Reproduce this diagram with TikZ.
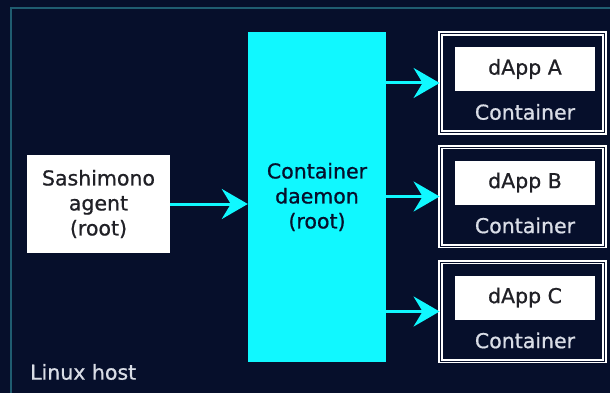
\documentclass[tikz,border=0pt]{standalone}
\usepackage{fontspec}
\setmainfont{DejaVu Sans}
\newfontfamily\labelfont{DejaVu Sans}[FakeBold=0.8]
\usetikzlibrary{arrows.meta}
\definecolor{hostbg}{HTML}{060F2B}
\definecolor{hostline}{HTML}{1F5C70}
\definecolor{daemoncyan}{HTML}{10F8FF}
\definecolor{labelgray}{HTML}{D9DDE6}
\definecolor{textdark}{HTML}{202026}

\begin{document}
\begin{tikzpicture}[x=1pt,y=-1pt]
    \tikzstyle{plainbox}=[rectangle,fill=white,text=textdark,inner sep=0pt,align=center,font=\labelfont\fontsize{20.5}{25}\selectfont]
    \tikzstyle{containerbox}=[rectangle,draw=white,double=hostbg,line width=1.8pt,double distance=1pt,minimum width=164pt,minimum height=99pt,inner sep=0pt]
    \tikzstyle{caption}=[text=labelgray,inner sep=0pt,font=\labelfont\fontsize{20.5}{25}\selectfont]
    \tikzstyle{feed}=[draw=daemoncyan,line width=3pt,-{Stealth[length=26pt,width=30pt,inset=9pt]}]

    \fill[hostbg] (0,0) rectangle (610,393);
    \useasboundingbox (0,0) rectangle (610,393);
    \draw[hostline,line width=1.5pt] (11,393) -- (11,8) -- (610,8);

    \node[plainbox,fill=daemoncyan,text=hostbg,minimum width=138pt,minimum height=330pt] (daemon) at (317,197) {Container\\daemon\\(root)};
    \node[plainbox,minimum width=143pt,minimum height=98pt] (agent) at (98.5,204) {Sashimono\\agent\\(root)};
    \node[caption,anchor=west] (host) at (30,372) {Linux host};

    \draw[feed] (agent.east) -- (daemon.west |- agent.east);

    \foreach \name/\y in {A/83, B/196.5, C/311.5} {
        \node[containerbox] (box-\name) at (522.5,\y) {};
        \node[plainbox,minimum width=140pt,minimum height=44pt] (dapp-\name) at (525,\y-14) {dApp \name};
        \node[caption] (cap-\name) at (525,\y+29) {Container};
        \draw[feed] (daemon.east |- box-\name.west) -- (box-\name.west);
    }
\end{tikzpicture}
\end{document}
